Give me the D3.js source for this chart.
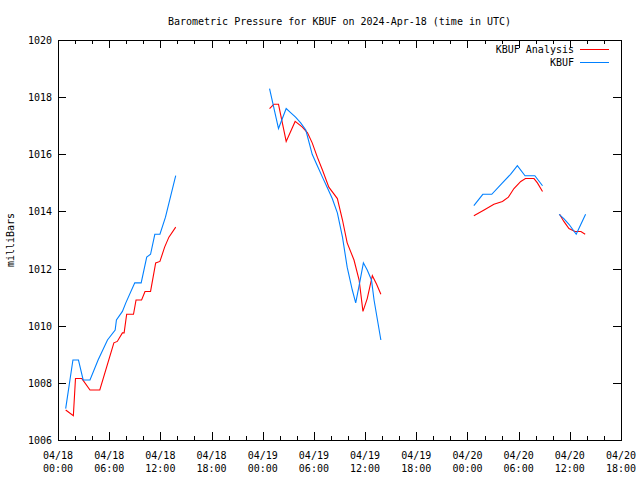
<!DOCTYPE html>
<html><head><meta charset="utf-8">
<script src="https://cdn.jsdelivr.net/npm/d3@7"></script>
<style>
body{margin:0;background:#fff;}
svg text{font-family:"DejaVu Sans Mono",monospace;font-size:10px;fill:#000;}
</style></head>
<body><svg id="c" width="640" height="480"></svg>
<script>
// ---- data (hours since 2024-04-18 00:00 UTC; null = gap) ----
const obsHours = [0.9,1.75,2.4,2.95,3.75,4.7,5.8,6.7,6.85,7.55,7.95,9.0,9.75,10.4,10.85,11.35,11.95,12.6,13.8,null,
  24.8,25.85,26.75,27.3,27.85,28.45,29.05,29.8,30.4,31.0,31.55,32.15,32.75,33.35,33.9,34.5,34.9,35.3,35.8,36.25,36.75,37.05,37.45,37.85,null,
  48.75,49.8,50.85,52.1,53.05,53.85,54.75,55.9,56.8,null,
  58.75,59.3,59.9,60.75,61.3,61.85];
const obsValues = [1007.1,1008.8,1008.8,1008.1,1008.1,1008.8,1009.5,1009.85,1010.2,1010.5,1010.8,1011.5,1011.5,1012.4,1012.5,1013.2,1013.2,1013.8,1015.25,null,
  1018.3,1016.9,1017.6,1017.45,1017.3,1017.1,1016.85,1016.0,1015.6,1015.2,1014.85,1014.45,1013.95,1013.1,1012.05,1011.25,1010.8,1011.4,1012.2,1011.95,1011.6,1010.9,1010.2,1009.5,null,
  1014.2,1014.6,1014.6,1015.0,1015.3,1015.6,1015.25,1015.25,1014.9,null,
  1013.9,1013.75,1013.55,1013.2,1013.55,1013.9];
const anaHours = [0.9,1.8,2.05,2.8,3.75,4.9,6.55,6.95,7.55,7.75,8.05,8.85,9.15,9.8,10.2,10.85,11.45,11.95,12.5,13.0,13.8,null,
  24.8,25.3,25.85,26.75,27.8,28.65,29.25,29.8,30.4,31.0,31.75,32.75,33.35,33.9,34.7,35.3,35.75,36.25,36.85,37.35,37.85,null,
  48.75,49.95,51.1,52.1,52.8,53.45,54.25,54.8,55.8,56.2,56.8,null,
  58.8,59.3,59.9,60.6,61.3,61.8];
const anaValues = [1007.05,1006.85,1008.15,1008.15,1007.75,1007.75,1009.4,1009.45,1009.75,1009.75,1010.4,1010.4,1010.9,1010.9,1011.2,1011.2,1012.2,1012.25,1012.75,1013.1,1013.45,null,
  1017.6,1017.75,1017.75,1016.45,1017.15,1016.95,1016.75,1016.4,1015.9,1015.45,1014.85,1014.45,1013.7,1012.9,1012.3,1011.6,1010.5,1010.95,1011.75,1011.45,1011.1,null,
  1013.85,1014.05,1014.25,1014.35,1014.5,1014.8,1015.05,1015.15,1015.15,1015.0,1014.7,null,
  1013.9,1013.65,1013.4,1013.3,1013.3,1013.2];
const yTicks = [1006,1008,1010,1012,1014,1016,1018,1020];
const xTickHours = [0,6,12,18,24,30,36,42,48,54,60,66];
const seriesNames = ["KBUF Analysis","KBUF"];
const seriesColors = ["#ff0000","#0080ff"];
const titleText = "Barometric Pressure for KBUF on 2024-Apr-18 (time in UTC)";
const yLabel = "milliBars";

// ---- layout ----
const L=58,R=621,T=40,B=440;
const t0 = Date.UTC(2024,3,18);
const toDate = h => new Date(t0 + h*3600000);
const x = d3.scaleUtc().domain([toDate(0),toDate(66)]).range([L,R]);
const y = d3.scaleLinear().domain([1006,1020]).range([B,T]);
const svg = d3.select("#c");

svg.append("text").attr("x",(L+R)/2).attr("y",25).attr("text-anchor","middle").text(titleText);
svg.append("text").attr("transform","translate(14,240) rotate(-90)").attr("text-anchor","middle").text(yLabel);

// ticks
const minor = d3.range(0,67,2).map(toDate);
const major = xTickHours.map(toDate);
const g = svg.append("g").attr("shape-rendering","crispEdges");
function tickAxis(axis, tr, vals, size){
  const a = g.append("g").attr("transform",tr).call(axis.tickValues(vals).tickSize(size).tickFormat(""));
  a.select(".domain").remove();
  a.selectAll("line").attr("stroke","#000");
}
tickAxis(d3.axisTop(x), `translate(0,${B})`, minor, 4);
tickAxis(d3.axisTop(x), `translate(0,${B})`, major, 8);
tickAxis(d3.axisBottom(x), `translate(0,${T})`, minor, 4);
tickAxis(d3.axisBottom(x), `translate(0,${T})`, major, 8);
tickAxis(d3.axisRight(y), `translate(${L},0)`, yTicks, 8);
tickAxis(d3.axisLeft(y), `translate(${R},0)`, yTicks, 8);

g.append("rect").attr("x",L).attr("y",T).attr("width",R-L).attr("height",B-T)
  .attr("fill","none").attr("stroke","#000");

// tick labels
svg.append("g").selectAll("text").data(yTicks).join("text")
  .attr("x",L-6).attr("y",d=>y(d)+4).attr("text-anchor","end").text(d=>d);
const fD = d3.utcFormat("%m/%d"), fT = d3.utcFormat("%H:%M");
const xl = svg.append("g").selectAll("text").data(major).join("text")
  .attr("text-anchor","middle");
xl.append("tspan").attr("x",d=>x(d)).attr("y",459).text(fD);
xl.append("tspan").attr("x",d=>x(d)).attr("y",472).text(fT);

// lines
function pts(hs,vs){return hs.map((h,i)=>({h,v:vs[i]}));}
const line = d3.line().defined(d=>d.h!=null&&d.v!=null).x(d=>x(toDate(d.h))).y(d=>y(d.v));
const data = [pts(anaHours,anaValues), pts(obsHours,obsValues)];
svg.append("g").selectAll("path").data(data).join("path")
  .attr("d",line).attr("fill","none").attr("stroke",(d,i)=>seriesColors[i]).attr("stroke-width",1.1);

// legend
const lg = svg.append("g");
seriesNames.forEach((n,i)=>{
  const yy = 49 + i*13;
  lg.append("text").attr("x",574).attr("y",yy+4).attr("text-anchor","end").text(n);
  lg.append("line").attr("x1",580).attr("x2",609).attr("y1",yy).attr("y2",yy)
    .attr("stroke",seriesColors[i]).attr("shape-rendering","crispEdges");
});
</script></body></html>
